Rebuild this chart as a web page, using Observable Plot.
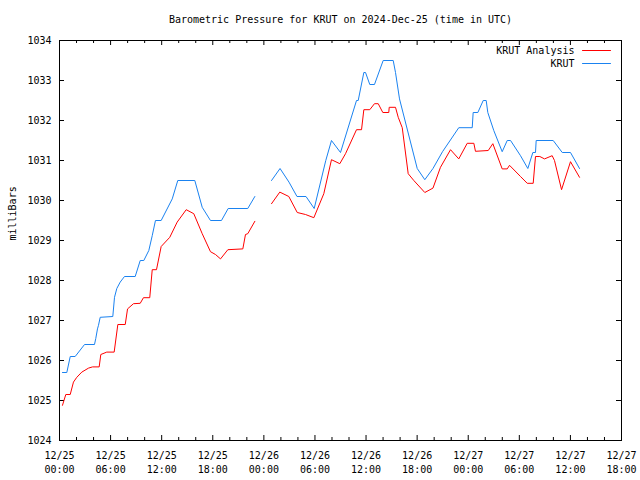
<!DOCTYPE html>
<html><head><meta charset="utf-8">
<script src="https://cdn.jsdelivr.net/npm/d3@7"></script>
<script src="https://cdn.jsdelivr.net/npm/@observablehq/plot@0.6"></script>
<style>body{margin:0;background:#fff} svg{display:block}</style>
</head><body><div id="chart"></div>
<script>
const title = "Barometric Pressure for KRUT on 2024-Dec-25 (time in UTC)";
const yLabel = "milliBars";
const seriesNames = ["KRUT Analysis", "KRUT"];
const seriesColors = ["#ff0000", "#1a82f0"];

// x: hours since 2024-12-25 00:00 UTC
const xTickHours = [0, 6, 12, 18, 24, 30, 36, 42, 48, 54, 60, 66];
const xTickLabels = ["12/25\n00:00", "12/25\n06:00", "12/25\n12:00", "12/25\n18:00",
  "12/26\n00:00", "12/26\n06:00", "12/26\n12:00", "12/26\n18:00",
  "12/27\n00:00", "12/27\n06:00", "12/27\n12:00", "12/27\n18:00"];
const xMinorHours = [2, 4, 8, 10, 14, 16, 20, 22, 26, 28, 32, 34, 38, 40, 44, 46, 50, 52, 56, 58, 62, 64];
const yTicks = [1024, 1025, 1026, 1027, 1028, 1029, 1030, 1031, 1032, 1033, 1034];

// KRUT observations (null = gap)
const krutHours = [0.35, 0.86, 1.26, 1.84, 2.94, 4.11, 4.26, 4.46, 4.58, 4.78, 6.26, 6.46, 6.73, 7.13, 7.63, 8.89, 9.48, 9.9, 10.49, 10.89, 11.27, 11.94, 13.24, 13.89, 15.89, 16.76, 17.73, 19.02, 19.81, 22.11, 22.94,
  23.9,
  24.9, 25.9, 26.95, 27.89, 28.95, 29.91, 31.27, 31.94, 33.0, 34.88, 35.08, 35.74, 35.94, 36.44, 36.99, 38.01, 39.19, 39.46, 39.93, 42.01, 42.9, 43.86, 44.98, 46.89, 48.47, 48.58, 49.13, 49.76, 50.11, 50.3, 51.0, 51.99, 52.58, 52.97, 54.14, 55.0, 55.59, 55.9, 55.98, 57.98, 59.04, 60.01, 61.07];
const krutValues = [1025.7, 1025.7, 1026.1, 1026.1, 1026.4, 1026.4, 1026.55, 1026.79, 1026.88, 1027.08, 1027.1, 1027.58, 1027.8, 1027.96, 1028.1, 1028.1, 1028.5, 1028.5, 1028.75, 1029.12, 1029.5, 1029.5, 1030.04, 1030.5, 1030.5, 1029.83, 1029.5, 1029.5, 1029.8, 1029.8, 1030.1,
  null,
  1030.5, 1030.8, 1030.46, 1030.1, 1030.1, 1029.8, 1031.0, 1031.5, 1031.2, 1032.5, 1032.5, 1033.2, 1033.2, 1032.9, 1032.9, 1033.5, 1033.5, 1033.2, 1032.54, 1030.8, 1030.52, 1030.8, 1031.22, 1031.82, 1031.82, 1032.2, 1032.2, 1032.5, 1032.5, 1032.2, 1031.75, 1031.22, 1031.5, 1031.5, 1031.12, 1030.8, 1031.2, 1031.2, 1031.5, 1031.5, 1031.2, 1031.2, 1030.8];

// KRUT Analysis (null = gap)
const analysisHours = [0.35, 0.74, 1.26, 1.64, 2.03, 2.62, 3.41, 3.88, 4.66, 4.85, 5.55, 6.42, 6.85, 7.72, 7.99, 8.69, 9.48, 9.86, 10.6, 10.89, 11.39, 11.94, 12.95, 13.82, 14.88, 15.77, 16.76, 17.73, 18.32, 18.91, 19.77, 21.53, 21.84, 22.11, 22.94,
  23.9,
  24.9, 25.87, 26.93, 27.92, 28.89, 29.87, 31.04, 31.94, 32.92, 33.59, 34.88, 35.47, 35.74, 36.44, 36.99, 37.43, 37.97, 38.67, 38.72, 39.46, 39.78, 40.25, 40.95, 41.61, 42.9, 43.86, 44.74, 45.92, 46.89, 47.88, 48.66, 48.85, 50.35, 50.89, 51.99, 52.58, 52.85, 54.14, 54.93, 55.63, 55.9, 56.41, 56.96, 57.86, 58.13, 58.96, 60.01, 61.07];
const analysisValues = [1024.88, 1025.15, 1025.15, 1025.46, 1025.58, 1025.71, 1025.81, 1025.84, 1025.84, 1026.15, 1026.21, 1026.21, 1026.9, 1026.9, 1027.29, 1027.42, 1027.43, 1027.57, 1027.57, 1028.27, 1028.27, 1028.85, 1029.08, 1029.46, 1029.77, 1029.67, 1029.17, 1028.72, 1028.65, 1028.54, 1028.77, 1028.79, 1029.15, 1029.17, 1029.48,
  null,
  1029.92, 1030.21, 1030.1, 1029.7, 1029.65, 1029.57, 1030.17, 1031.02, 1030.92, 1031.17, 1031.77, 1031.77, 1032.27, 1032.27, 1032.42, 1032.42, 1032.2, 1032.2, 1032.33, 1032.33, 1032.08, 1031.82, 1030.67, 1030.5, 1030.2, 1030.31, 1030.83, 1031.27, 1031.04, 1031.43, 1031.43, 1031.23, 1031.25, 1031.42, 1030.79, 1030.79, 1030.88, 1030.6, 1030.43, 1030.43, 1031.1, 1031.1, 1031.04, 1031.12, 1031.0, 1030.27, 1030.97, 1030.58];

const W = 640, H = 480, mL = 59, mR = 19, mT = 40, mB = 40;
const fw = W - mL - mR, fh = H - mT - mB;
const font = "'DejaVu Sans Mono', monospace";
const majorLen = 5, minorLen = 3;

const toRows = (hs, vs) => hs.map((h, i) => ({h, v: vs[i]}));
const krut = toRows(krutHours, krutValues);
const analysis = toRows(analysisHours, analysisValues);
const labelMap = new Map(xTickHours.map((h, i) => [h, xTickLabels[i]]));

const lineShape = {draw(context, l) { context.moveTo(0, 0); context.lineTo(0, -l); }};

const chart = Plot.plot({
  width: W, height: H,
  marginLeft: mL, marginRight: mR, marginTop: mT, marginBottom: mB,
  style: {fontFamily: font, fontSize: "10px", background: "#fff", color: "#000"},
  x: {domain: [0, 66]},
  y: {domain: [1024, 1034]},
  marks: [
    Plot.tickX(xTickHours, {x: d => d, insetTop: fh - majorLen}),
    Plot.tickX(xTickHours, {x: d => d, insetBottom: fh - majorLen}),
    Plot.tickX(xMinorHours, {x: d => d, insetTop: fh - minorLen}),
    Plot.tickX(xMinorHours, {x: d => d, insetBottom: fh - minorLen}),
    Plot.tickY(yTicks, {y: d => d, insetRight: fw - majorLen}),
    Plot.tickY(yTicks, {y: d => d, insetLeft: fw - majorLen}),
    Plot.axisX({ticks: xTickHours, tickFormat: d => labelMap.get(d), tickSize: 0, tickPadding: 9, lineHeight: 1.4, label: null}),
    Plot.axisY({ticks: yTicks, tickSize: 0, tickPadding: 8, label: null, tickFormat: d => String(d)}),
    Plot.line(analysis, {x: "h", y: "v", stroke: seriesColors[0], strokeWidth: 1}),
    Plot.line(krut, {x: "h", y: "v", stroke: seriesColors[1], strokeWidth: 1}),
    Plot.frame({stroke: "#000"}),
    Plot.text([title], {frameAnchor: "top", dy: -21, lineAnchor: "middle", text: d => d}),
    Plot.text([yLabel], {frameAnchor: "left", rotate: -90, dx: -47, text: d => d}),
    Plot.text([seriesNames[0]], {frameAnchor: "top-right", dx: -47, dy: 10, textAnchor: "end", lineAnchor: "middle", text: d => d}),
    Plot.text([seriesNames[1]], {frameAnchor: "top-right", dx: -47, dy: 23, textAnchor: "end", lineAnchor: "middle", text: d => d}),
    Plot.vector([seriesNames[0]], {frameAnchor: "top-right", dx: -39, dy: 10, length: 28, rotate: 90, anchor: "start", shape: lineShape, stroke: seriesColors[0], strokeWidth: 1}),
    Plot.vector([seriesNames[1]], {frameAnchor: "top-right", dx: -39, dy: 23, length: 28, rotate: 90, anchor: "start", shape: lineShape, stroke: seriesColors[1], strokeWidth: 1})
  ]
});
document.getElementById("chart").appendChild(chart);
</script>
</body></html>
